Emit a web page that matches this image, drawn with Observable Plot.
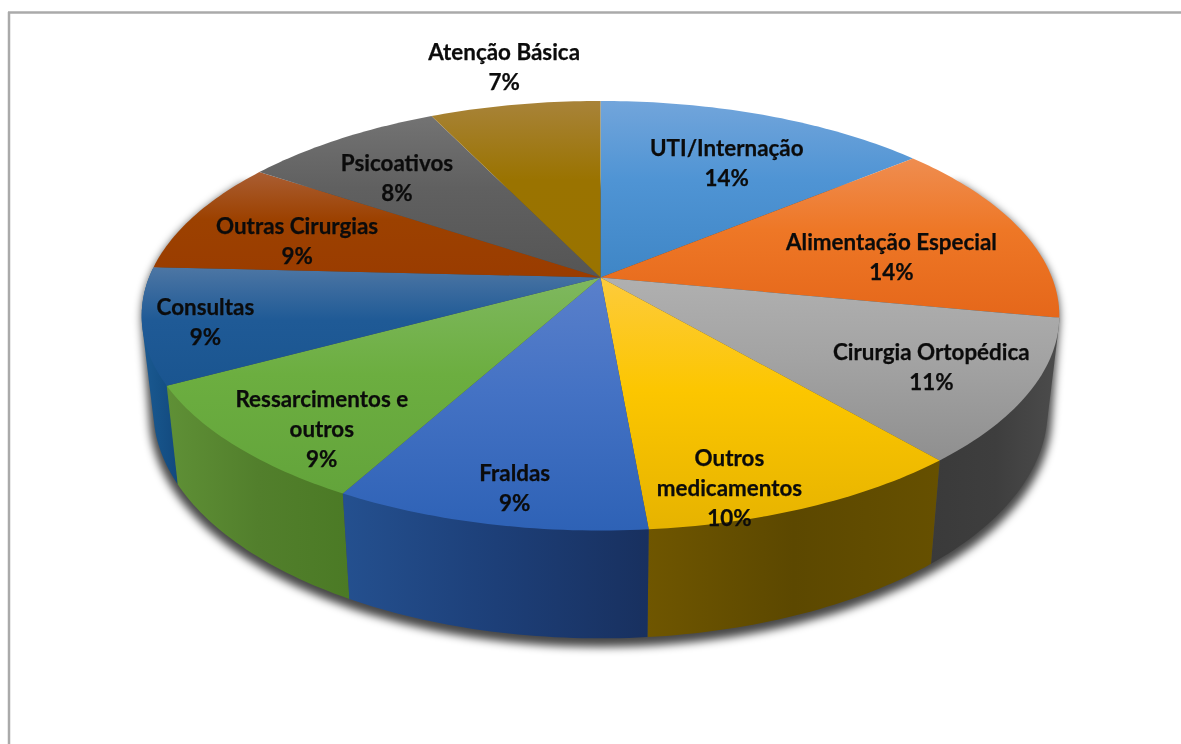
<!DOCTYPE html>
<html lang="pt">
<head>
<meta charset="utf-8">
<script src="https://cdn.jsdelivr.net/npm/d3@7"></script>
<script src="https://cdn.jsdelivr.net/npm/@observablehq/plot@0.6"></script>
<style>
html,body{margin:0;padding:0;background:#fff;overflow:hidden}
svg{display:block}
</style>
</head>
<body>
<div id="chart"></div>
<script>
// Data, clockwise from 12 o'clock
const categories = ["UTI/Internação","Alimentação Especial","Cirurgia Ortopédica","Outros\nmedicamentos","Fraldas","Ressarcimentos e\noutros","Consultas","Outras Cirurgias","Psicoativos","Atenção Básica"];
const shares = [14, 14, 10.75, 9.85, 9.4, 9.1, 8.7, 8.6, 8.45, 7.15];
const printedPercent = [14, 14, 11, 10, 9, 9, 9, 9, 8, 7];

// Styles, kept apart from the data
const faceLight = ["#72a5db","#ef8d50","#b0b0b0","#fdcb3c","#5a80cb","#7fb85f","#4d76a4","#aa5e33","#737373","#a88339"];
const faceBase  = ["#4f94d4","#ee7726","#a3a3a3","#fcc600","#4472c4","#6cae40","#1f5a96","#9c4100","#606060","#9a7300"];
const faceDeep  = ["#3f86c6","#e5671a","#8f8f8f","#e6b300","#2e62b6","#63a43b","#1a5590","#9a3c00","#555555","#997300"];
const wallLeft  = {2:"#3a3a3a",3:"#6f5600",4:"#24508f",5:"#5f9036",6:"#1b5a92"};
const wallMid   = {2:"#3e3e3e",3:"#5c4800",4:"#1d3f78",5:"#527f2c",6:"#165288"};
const wallRight = {2:"#4c4c4c",3:"#665000",4:"#18305f",5:"#4b7a25",6:"#12497e"};
// Label placement on the disc: reach from the centre, and turn away from the slice's mid-angle
const labelReach = [.68,.663,.79,.895,.876,.848,.868,.716,.716,1.254];
const labelTurn  = [1.9,5.9,.4,7.1,-1.3,-5.1,-1.1,-3.9,-2.5,.9];

// Perspective view of the pie's top and bottom circles
const tilt = .178;
const topCircle = {cx:600, cy:277, k:451.5, b:208};
const lowCircle = {cx:600, cy:369, k:440, b:221};
const rad = d => d * Math.PI / 180;
function project(c, deg, r = 1) {
  const u = r * Math.sin(rad(deg)), v = r * Math.cos(rad(deg)), d = 1 + tilt * v;
  return {x: c.cx + c.k * u / d, y: c.cy - c.b * v / d};
}
const arc = (c, a0, a1) => {
  const n = Math.max(2, Math.ceil(Math.abs(a1 - a0)));
  return d3.range(n + 1).map(i => project(c, a0 + (a1 - a0) * i / n));
};

const total = d3.sum(shares);
let run = 0;
const slices = shares.map((s, i) => {
  const a0 = run / total * 360; run += s;
  const a1 = run / total * 360;
  return {i, a0, a1, mid: (a0 + a1) / 2};
});

const defs = () => {
  const d = d3.create("svg:defs");
  slices.forEach(({i}) => {
    const g = d.append("linearGradient").attr("id", `face${i}`).attr("x1",0).attr("x2",0).attr("y1",0).attr("y2",1);
    [[0,faceLight[i]],[.45,faceBase[i]],[1,faceDeep[i]]].forEach(([o,c]) => g.append("stop").attr("offset",o).attr("stop-color",c));
    if (wallLeft[i]) {
      const w = d.append("linearGradient").attr("id", `wall${i}`).attr("x1",0).attr("x2",1).attr("y1",0).attr("y2",0);
      [[0,wallLeft[i]],[.5,wallMid[i]],[1,wallRight[i]]].forEach(([o,c]) => w.append("stop").attr("offset",o).attr("stop-color",c));
    }
  });
  return d.node();
};

// Each visible wall is the hull of its top and bottom arcs; the top faces cover the hidden part
const wallOrder = [6,2,5,3,4];
const wallShape = ({a0, a1}) =>
  d3.polygonHull([...arc(topCircle, a0, a1), ...arc(lowCircle, a0, a1)].map(p => [p.x, p.y]))
    .map(([x, y]) => ({x, y}));
const lowRing = d3.range(0, 361, 2).map(a => project({...lowCircle, k:lowCircle.k + 4, b:lowCircle.b + 3, cy:lowCircle.cy + 3}, a));
const silhouette = d3.polygonHull([...lowRing, ...arc(topCircle, 60, 300)].map(p => [p.x, p.y])).map(([x, y]) => ({x, y: y + 2}));

const labels = slices.map(({i, mid}) => {
  const p = project(topCircle, mid + labelTurn[i], labelReach[i]);
  return {x: p.x, y: p.y - 2.5, text: `${categories[i]}\n${printedPercent[i]}%`};
});

const plot = Plot.plot({
  width: 1181, height: 744, margin: 0,
  x: {domain: [0, 1181], range: [0, 1181], axis: null},
  y: {domain: [0, 744], range: [0, 744], axis: null},
  style: {background: "#fff"},
  marks: [
    defs,
    Plot.ruleX([8.5], {y1: 12, y2: 744, stroke: "#aaaaaa", strokeWidth: 2.5}),
    Plot.ruleY([12], {x1: 8, x2: 1181, stroke: "#aaaaaa", strokeWidth: 2.5}),
    Plot.line(silhouette, {x: "x", y: "y", fill: "#000", fillOpacity: .72, stroke: "none", imageFilter: "blur(4px)"}),
    ...wallOrder.map(i =>
      Plot.line(wallShape(slices[i]), {x: "x", y: "y", fill: `url(#wall${i})`, stroke: "none"})
    ),
    ...slices.map(({i, a0, a1}) =>
      Plot.line([{x: topCircle.cx, y: topCircle.cy}, ...arc(topCircle, a0, a1)], {x: "x", y: "y", fill: `url(#face${i})`, stroke: "none"})
    ),
    Plot.text(labels, {
      x: "x", y: "y", text: "text", fontFamily: "Lato", fontWeight: 700, fontSize: 22.4,
      lineHeight: 1.34, fill: "#0b0b0b", stroke: "#0b0b0b", strokeWidth: .25, imageFilter: "blur(0.3px)"
    })
  ]
});
document.getElementById("chart").append(plot);
</script>
</body>
</html>
